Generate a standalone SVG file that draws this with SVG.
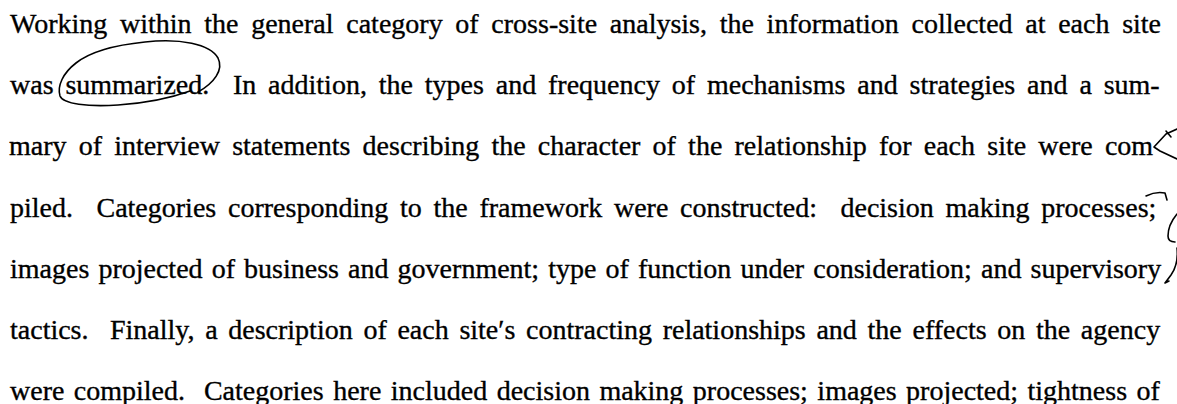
<svg xmlns="http://www.w3.org/2000/svg" width="1177" height="404" viewBox="0 0 1177 404">
  <style>
    .body { font-family: "Liberation Serif", "Times New Roman", serif; font-size: 28px; fill: #000; stroke: #000; stroke-width: 0.35; white-space: pre; }
    .pen { fill: none; stroke: #000; stroke-width: 1.6; stroke-linecap: round; stroke-linejoin: round; }
  </style>
  <rect width="1177" height="404" fill="#fff"/>

  <!-- typed paragraph, one justified line per text element; two spaces after full stops -->
  <g id="paragraph" class="body">
    <text x="10" y="33" word-spacing="5.7" xml:space="preserve">Working within the general category of cross-site analysis, the information collected at each site</text>
    <text x="10" y="94" word-spacing="4.85" xml:space="preserve">was summarized.  In addition, the types and frequency of mechanisms and strategies and a sum-</text>
    <text x="9" y="155" word-spacing="5.2" xml:space="preserve">mary of interview statements describing the character of the relationship for each site were com</text>
    <text x="10" y="217" word-spacing="4.75" xml:space="preserve">piled.  Categories corresponding to the framework were constructed:  decision making processes;</text>
    <text x="10" y="278" word-spacing="2.1" xml:space="preserve">images projected of business and government; type of function under consideration; and supervisory</text>
    <text x="10" y="339" word-spacing="3.7" xml:space="preserve">tactics.  Finally, a description of each site′s contracting relationships and the effects on the agency</text>
    <text x="10" y="400" word-spacing="2.45" xml:space="preserve">were compiled.  Categories here included decision making processes; images projected; tightness of</text>
  </g>

  <!-- hand-drawn proofreading marks -->
  <g id="marks" class="pen">
    <!-- loop around "summarized." -->
    <path d="M 198,92 C 214,83 224,70 218,58 C 210,44 180,38 145,42 C 115,45 90,52 76,63 C 63,73 57,86 60,96 C 63,104 88,107 118,105 C 148,103 168,99 190,91"/>
    <!-- caret at the end of "com" -->
    <path d="M 1177,129 L 1166,134 L 1154,147 L 1160,151 L 1177,159"/>
    <path d="M 1166,131 L 1171,137"/>
    <!-- bar over the semicolon after "processes" -->
    <path d="M 1146,196 C 1152,193 1160,192 1165,193 L 1167,200"/>
    <!-- bracket beside "supervisory" -->
    <path d="M 1177,214 C 1172,220 1168,228 1168,236 C 1168,240 1171,242 1175,242"/>
    <path d="M 1177,248 C 1178,258 1176,268 1171,275 L 1165,283 L 1169,281"/>
  </g>
</svg>
